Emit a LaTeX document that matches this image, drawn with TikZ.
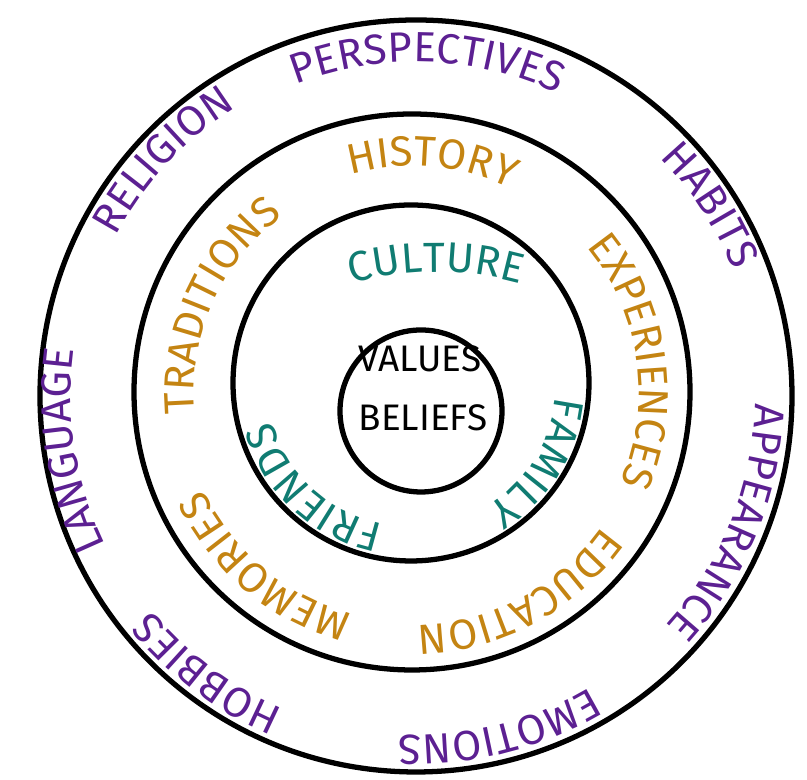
\documentclass[tikz,border=0pt]{standalone}
\usepackage{fontspec}
\setmainfont{Fira Sans}
\usetikzlibrary{decorations.text}

\definecolor{ringpurple}{RGB}{92,32,146}
\definecolor{ringorange}{RGB}{196,132,18}
\definecolor{ringteal}{RGB}{16,124,114}

\tikzset{
  ring/.style={circle, draw, line width=1.5pt, inner sep=0pt},
}

% label written clockwise along a ring: node, radius, angle, colour, text
\newcommand{\ringlabel}[5]{%
  \path[shift={(#1.center)}, decorate,
    decoration={text along path, text align=center, text color=#4,
      text={|\fontsize{12}{12}\selectfont|#5}}]
    (#3+60:#2) arc[start angle=#3+60, end angle=#3-60, radius=#2];}

\begin{document}
\begin{tikzpicture}

\useasboundingbox (0,0) rectangle (8.07,7.8);

	\node [ring, minimum size=7.52cm] (outer) at (4.16,3.84) {};
	\node [ring, minimum size=5.56cm] (middle) at (4.12,3.88) {};
	\node [ring, minimum size=3.56cm] (inner) at (4.11,3.97) {};
	\node [ring, minimum size=1.62cm] (core) at (4.21,3.69) {};

\coordinate (culturebase) at (4.36,2.00);

\node[font=\fontsize{10.5}{10.5}\selectfont] (values) at (4.20,4.21) {VALUES};
\node[font=\fontsize{10.5}{10.5}\selectfont] (beliefs) at (4.23,3.62) {BELIEFS};

% outer ring
\ringlabel{outer}{3.34}{88}{ringpurple}{PERSPECTIVES}
\ringlabel{outer}{3.40}{137}{ringpurple}{RELIGION}
\ringlabel{outer}{3.41}{33}{ringpurple}{HABITS}
\ringlabel{outer}{3.39}{-22}{ringpurple}{APPEARANCE}
\ringlabel{outer}{3.39}{-76}{ringpurple}{EMOTIONS}
\ringlabel{outer}{3.40}{233}{ringpurple}{HOBBIES}
\ringlabel{outer}{3.45}{189}{ringpurple}{LANGUAGE}

% middle ring
\ringlabel{middle}{2.26}{85}{ringorange}{HISTORY}
\ringlabel{middle}{2.18}{156}{ringorange}{TRADITIONS}
\ringlabel{middle}{2.27}{8}{ringorange}{EXPERIENCES}
\ringlabel{middle}{2.30}{230}{ringorange}{MEMORIES}
\ringlabel{middle}{2.33}{-62}{ringorange}{EDUCATION}

% inner ring
\ringlabel{culturebase}{3.08}{90}{ringteal}{CULTURE}
\ringlabel{inner}{1.45}{-32}{ringteal}{FAMILY}
\ringlabel{inner}{1.44}{227}{ringteal}{FRIENDS}

\end{tikzpicture}
\end{document}
